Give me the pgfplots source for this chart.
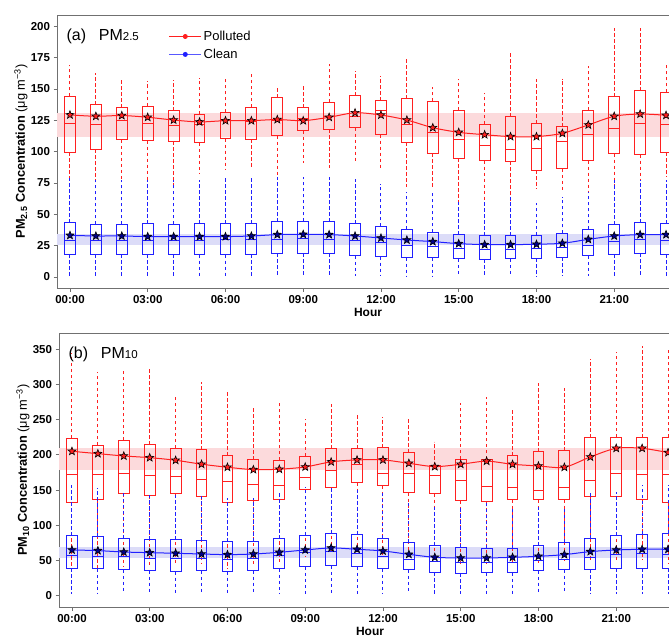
\documentclass[border=0pt]{standalone}
\usepackage{fontspec}
\setmainfont{Liberation Sans}
\usepackage{pgfplots}
\usepackage{pgfplotstable}
\pgfplotsset{compat=1.18}

\definecolor{cred}{HTML}{FF2020}
\definecolor{cblue}{HTML}{2020FF}
\definecolor{cnavy}{HTML}{00008B}
\definecolor{bandred}{HTML}{FCDADC}
\definecolor{bandblue}{HTML}{DCDCF8}
\definecolor{frame}{HTML}{707070}

\pgfdeclareplotmark{fstar}{%
  \pgfpathmoveto{\pgfpointpolar{90}{\pgfplotmarksize}}%
  \pgfpathlineto{\pgfpointpolar{126}{0.42\pgfplotmarksize}}%
  \pgfpathlineto{\pgfpointpolar{162}{\pgfplotmarksize}}%
  \pgfpathlineto{\pgfpointpolar{198}{0.42\pgfplotmarksize}}%
  \pgfpathlineto{\pgfpointpolar{234}{\pgfplotmarksize}}%
  \pgfpathlineto{\pgfpointpolar{270}{0.42\pgfplotmarksize}}%
  \pgfpathlineto{\pgfpointpolar{306}{\pgfplotmarksize}}%
  \pgfpathlineto{\pgfpointpolar{342}{0.42\pgfplotmarksize}}%
  \pgfpathlineto{\pgfpointpolar{18}{\pgfplotmarksize}}%
  \pgfpathlineto{\pgfpointpolar{54}{0.42\pgfplotmarksize}}%
  \pgfpathclose
  \pgfusepathqfillstroke}

% PM2.5 polluted
\pgfplotstableread{
h lw q1 med q3 uw mean
0 77 99.7 122.6 144.1 169 129.3
1 77 101.8 121.3 137.5 163 128.2
2 78 109.3 125.2 135 158 128.8
3 77 108.8 122.6 136.4 156.4 127.4
4 73 108.2 121 132.7 157 125.2
5 82.7 106.9 121.3 130 159 123.7
6 85.4 110.4 124.7 131.4 159 124.7
7 88 109.8 124 135.6 163.8 124.7
8 77 112.5 125.2 142.8 151.8 125.6
9 90.7 116.5 126.6 135 154 124.7
10 86.7 117.8 128 139.3 169.7 127.4
11 90.7 119.1 127.9 144.4 164.3 131.0
12 85.4 113.5 133 140.7 160.4 129.2
13 72 107.4 121.3 142.3 175.2 125.2
14 70 98.7 115.4 140.1 151.3 119.1
15 60 94.9 109.3 133 157.7 115.4
16 61.4 92.8 104.8 121.8 146.5 113.5
17 61 92.3 101.6 127.9 180.3 112
18 70.7 85.1 102.4 122.3 157.7 112
19 68 86.2 108 119.7 158.2 114.6
20 68 92.8 113.3 133 168.3 121.3
21 72 98.4 118.6 143.9 198.4 128.2
22 77 97.6 122.6 148.7 198.9 130
23 80 99.5 121.3 147.3 171 129
}\pmApol

% PM2.5 clean
\pgfplotstableread{
h lw q1 med q3 uw mean
0 0.5 18.3 29 43.1 78.7 33.2
1 0.5 18.3 29 42 77 32.7
2 0.5 18.3 29 42 77 32.7
3 0.5 18.3 29 42.3 77 32.2
4 0.5 18.3 29 42 77 32.2
5 0.5 17.8 29 42.5 77 32.2
6 0.5 17.8 29.5 42.5 78.7 32.2
7 0.5 18.3 29.5 42.5 78.7 32.7
8 0.5 18.9 30 44.1 80 33.8
9 0.5 18.9 30.6 44.4 80 34
10 0.5 18.9 30 44.1 80 33.8
11 0.5 16.8 28.7 42.5 78.2 32.7
12 0.5 16.2 27.4 40.4 74.2 31.1
13 0.8 15.4 25.3 38 68 29.5
14 0.5 15.4 24.2 35.6 66.7 28.2
15 0.5 14.4 22.9 33.8 60 26.6
16 0.5 14.1 22.1 32.7 60 25.8
17 0.5 14.4 22.1 32.7 64 25.8
18 0.5 14.9 22.9 33.2 58.8 26.1
19 0.5 15.7 23.7 34.8 63.6 26.9
20 1 16.8 25.5 38 68 30
21 0.5 18.3 28.2 41.8 77.4 32.7
22 0.5 18.9 29.5 43.3 77.4 33.8
23 0.5 18.3 28.7 42.5 77.4 33.8
}\pmAcln

% PM10 polluted
\pgfplotstableread{
h lw q1 med q3 uw mean
0 40 132.7 171.5 223.6 344 205
1 40 136.9 172.5 213.7 317 201.7
2 42 144.4 174 221 321 198.4
3 42 141.6 171 214 322 196
4 45 144.4 169.2 209.4 281.8 192.3
5 45 140.7 165.4 207 303 186.7
6 38 132.7 161.6 198.4 290.8 182.4
7 45 134.6 158.3 193.3 266.2 179
8 48 136.9 156.4 192.3 274.3 179.6
9 55 150.2 167.2 198 250.6 182.8
10 60 153.4 177.5 208.3 272.5 190
11 60 160.6 185.7 208.3 256.7 192.8
12 55 155.9 172.9 209.8 254.4 192.8
13 50 146.4 172.9 202.7 250.6 188
14 55 145 170.5 184.7 218.8 183.3
15 45 134.6 163.5 193.8 273.3 186.6
16 45 133.1 154.9 193.8 282.7 191
17 45 136 153.9 198.4 266.2 186.6
18 45 136 149.2 204.1 302.6 184.2
19 50 136.4 153 206 294.6 182.4
20 50 141.2 163.5 224 335.8 197
21 50 140.2 172.9 225 345.7 209.3
22 50 136.9 172.5 224 354.7 209.3
23 45 131.7 171.5 225 350 203.2
}\pmBpol

% PM10 clean
\pgfplotstableread{
h lw q1 med q3 uw mean
0 3 38.9 57.3 85.3 157.3 64.9
1 3 38 55.5 83.9 152.5 64
2 3 36.5 55.5 81.5 147.8 62
3 3 35.6 53.1 79.2 143 61.1
4 3 34.1 53.1 79.2 143 60.2
5 3 35.1 53.1 78.2 141.6 59.2
6 3 34.1 51.7 76.8 139.3 58.3
7 3 35.6 53.1 76.8 139.3 59.2
8 3 38 56.4 80.6 145.4 61.6
9 3 40.8 61.1 85.8 154.9 64.9
10 3 42.2 62.1 88.1 154.9 67.8
11 3 40.8 60.2 86.2 150.1 65.9
12 3 38 55.5 81.5 145.4 63.5
13 3 36.5 51.7 75.8 133.6 58.7
14 3 33.2 48.3 71 126.5 54.5
15 3 31.8 47.4 68.2 126.5 53.5
16 3 32.7 46.9 67.3 133.6 53.5
17 3 32.7 47.4 67.3 124.1 54.5
18 3 35.6 49.8 70.6 126.5 55.9
19 3 36.5 51.7 75.8 126.5 58.3
20 3 37.5 54.5 81 145.4 62.6
21 3 38.9 57.8 84.8 147.8 64.9
22 3 38.9 59.2 87.2 157.3 65.9
23 3 38.9 57.8 88.6 157.3 65.9
}\pmBcln

% boxes, medians and whiskers drawn from the tables with quiver segments
\newcommand{\drawboxes}[2]{%
  \addplot[draw=#2, color=#2, forget plot, line width=1pt, dash pattern=on 3.5pt off 2.5pt,
    quiver={u=0, v=\thisrow{uw}-\thisrow{q3}}] table[x=h, y=q3] {#1};
  \addplot[draw=#2, color=#2, forget plot, line width=1pt, dash pattern=on 3.5pt off 2.5pt,
    quiver={u=0, v=\thisrow{lw}-\thisrow{q1}}] table[x=h, y=q1] {#1};
  \addplot[draw=#2, color=#2, forget plot, line width=1pt, line cap=rect,
    quiver={u=0.42, v=0}] table[x expr=\thisrow{h}-0.21, y=q1] {#1};
  \addplot[draw=#2, color=#2, forget plot, line width=1pt, line cap=rect,
    quiver={u=0.42, v=0}] table[x expr=\thisrow{h}-0.21, y=q3] {#1};
  \addplot[draw=#2, color=#2, forget plot, line width=1pt,
    quiver={u=0.42, v=0}] table[x expr=\thisrow{h}-0.21, y=med] {#1};
  \addplot[draw=#2, color=#2, forget plot, line width=1pt, line cap=rect,
    quiver={u=0, v=\thisrow{q3}-\thisrow{q1}}] table[x expr=\thisrow{h}-0.21, y=q1] {#1};
  \addplot[draw=#2, color=#2, forget plot, line width=1pt, line cap=rect,
    quiver={u=0, v=\thisrow{q3}-\thisrow{q1}}] table[x expr=\thisrow{h}+0.21, y=q1] {#1};
}

\pgfplotsset{
  panel/.style={
    scale only axis, width=622pt, xmin=-0.5, xmax=23.5,
    axis line style={frame, line width=0.8pt},
    tick style={frame, line width=0.8pt},
    major tick length=3.5pt, tick align=outside, tick pos=left,
    xtick={0,3,...,21},
    xticklabels={00:00,03:00,06:00,09:00,12:00,15:00,18:00,21:00},
    ticklabel style={font=\fontsize{11.5}{13}\selectfont\bfseries},
    /pgf/number format/assume math mode=true,
    xlabel={Hour},
    xlabel style={font=\fontsize{12}{14}\selectfont\bfseries, yshift=2pt},
    every axis y label/.style={at={(axis description cs:-0.058,0.5)},
      rotate=90, anchor=center, font=\fontsize{12.8}{14}\selectfont},
    legend cell align=left,
  },
  meanline/.style={line width=1pt, smooth, forget plot, mark=fstar,
    mark size=4.2pt, mark options={solid, fill=#1, draw=black, line width=0.6pt}},
}

\begin{document}
\begin{tikzpicture}
% ---------- panel (a) ----------
\begin{axis}[panel, at={(57pt,-288pt)}, anchor=south west, height=273pt,
  ymin=-8.8, ymax=209, ytick={0,25,...,200},
  ylabel={\textbf{PM\textsubscript{2.5} Concentration} (μg m\textsuperscript{−3})},
  legend image code/.code={\draw[mark repeat=2,mark phase=2,#1]
    plot coordinates {(0cm,0cm) (0.56cm,0cm) (1.12cm,0cm)};},
  legend style={at={(axis description cs:0.178,0.953)}, anchor=north west,
    draw=none, fill=none, font=\fontsize{13}{15}\selectfont, row sep=3pt, inner sep=1pt},
]
\addplot[draw=none, fill=bandred, forget plot] coordinates
  {(-0.5,111.7) (23.5,111.7) (23.5,130.8) (-0.5,130.8)} --cycle;
\addplot[draw=none, fill=bandblue, forget plot] coordinates
  {(-0.5,25.5) (23.5,25.5) (23.5,34.1) (-0.5,34.1)} --cycle;
\drawboxes{\pmApol}{cred}
\drawboxes{\pmAcln}{cblue}
\addplot[cred, meanline=cred] table[x=h, y=mean] {\pmApol};
\addplot[cblue, meanline=cnavy] table[x=h, y=mean] {\pmAcln};
\addlegendimage{cred, line width=0.9pt, mark=*, mark size=2pt}
\addlegendentry{Polluted}
\addlegendimage{cblue!75!white, line width=0.9pt, mark=*, mark size=2pt, mark options={fill=cblue, draw=cblue}}
\addlegendentry{Clean}
\node[anchor=west, font=\fontsize{16}{18}\selectfont, inner sep=0pt]
  at (axis description cs:0.015,0.922) {(a)\hspace{0.8em}PM{\fontsize{11.5}{12}\selectfont 2.5}};
\end{axis}
% ---------- panel (b) ----------
\begin{axis}[panel, at={(59pt,-607.3pt)}, anchor=south west, height=274.3pt,
  ymin=-16.5, ymax=373, ytick={0,50,...,350},
  ylabel={\textbf{PM\textsubscript{10} Concentration} (μg m\textsuperscript{−3})},
]
\addplot[draw=none, fill=bandred, forget plot] coordinates
  {(-0.5,178.6) (23.5,178.6) (23.5,209.9) (-0.5,209.9)} --cycle;
\addplot[draw=none, fill=bandblue, forget plot] coordinates
  {(-0.5,53.1) (23.5,53.1) (23.5,68.8) (-0.5,68.8)} --cycle;
\drawboxes{\pmBpol}{cred}
\drawboxes{\pmBcln}{cblue}
\addplot[cred, meanline=cred] table[x=h, y=mean] {\pmBpol};
\addplot[cblue, meanline=cnavy] table[x=h, y=mean] {\pmBcln};
\node[anchor=west, font=\fontsize{16}{18}\selectfont, inner sep=0pt]
  at (axis description cs:0.015,0.922) {(b)\hspace{0.8em}PM{\fontsize{11.5}{12}\selectfont 10}};
\end{axis}
\pgfresetboundingbox
\path[use as bounding box] (0pt,0pt) rectangle (669pt,-639pt);
\end{tikzpicture}
\end{document}
